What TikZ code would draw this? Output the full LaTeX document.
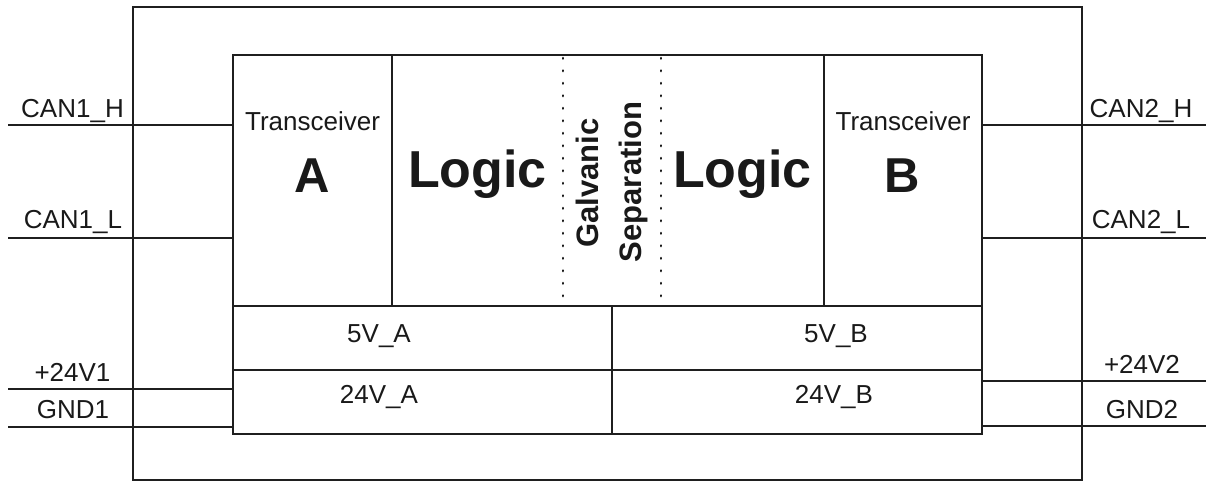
\documentclass[tikz,border=0pt]{standalone}
\usepackage{fontspec}
\setmainfont{Liberation Sans}
\begin{document}
\begin{tikzpicture}[x=1pt,y=-1pt,
  line width=2pt,
  ink/.style={draw=black!88},
  box/.style={ink, inner sep=0pt, outer sep=0pt, anchor=north west},
  sep/.style={draw=black!90, line width=2.6pt, dash pattern=on 0.6pt off 11.9pt, line cap=round},
  lbl/.style={anchor=base, inner sep=0pt, text=black!90, font=\fontsize{26}{30}\selectfont},
  big/.style={anchor=base, inner sep=0pt, text=black!90, font=\fontsize{49}{55}\bfseries\selectfont},
  logic/.style={anchor=base, inner sep=0pt, text=black!90, font=\fontsize{52}{58}\bfseries\selectfont},
  gal/.style={anchor=base, inner sep=0pt, rotate=90, text=black!90, font=\fontsize{31}{36}\bfseries\selectfont},
  wire/.style={ink}]
\useasboundingbox (0,0) rectangle (1208,482);
% housing and module outline
\node[box, minimum width=949pt, minimum height=473pt] (housing) at (133,7) {};
\node[box, minimum width=749pt, minimum height=379pt] (core) at (233,55) {};
% internal dividers
\draw[ink] (392,55) -- (392,306);
\draw[ink] (824,55) -- (824,306);
\draw[ink] (233,306) -- (982,306);
\draw[ink] (233,370) -- (982,370);
\draw[ink] (612,306) -- (612,434);
\draw[sep] (563,58) -- (563,304);
\draw[sep] (661,58) -- (661,304);
% block texts
\node[lbl] (trA) at (312.5,130) {Transceiver};
\node[big] (letA) at (312,192) {A};
\node[logic] (logA) at (477.5,187) {Logic};
\node[gal] (galv) at (598,183) {Galvanic};
\node[gal] (sepr) at (641,182) {Separation};
\node[logic] (logB) at (742.5,187) {Logic};
\node[lbl] (trB) at (903,130) {Transceiver};
\node[big] (letB) at (902,192) {B};
\node[lbl] (v5A) at (379,342) {5V\_A};
\node[lbl] (v5B) at (836,342) {5V\_B};
\node[lbl] (v24A) at (379,403) {24V\_A};
\node[lbl] (v24B) at (834,403) {24V\_B};
% external pins, left
\coordinate (p1h) at (8,125);
\coordinate (p1l) at (8,238);
\coordinate (p1v) at (8,389);
\coordinate (p1g) at (8,427);
\draw[wire] (p1h) -- (p1h -| core.west);
\draw[wire] (p1l) -- (p1l -| core.west);
\draw[wire] (p1v) -- (p1v -| core.west);
\draw[wire] (p1g) -- (p1g -| core.west);
\node[lbl] (n1h) at (72.5,117) {CAN1\_H};
\node[lbl] (n1l) at (73,228) {CAN1\_L};
\node[lbl] (n1v) at (72.5,381) {+24V1};
\node[lbl] (n1g) at (73,418) {GND1};
% external pins, right
\coordinate (p2h) at (1206,125);
\coordinate (p2l) at (1206,238);
\coordinate (p2v) at (1206,381);
\coordinate (p2g) at (1206,426);
\draw[wire] (p2h -| core.east) -- (p2h);
\draw[wire] (p2l -| core.east) -- (p2l);
\draw[wire] (p2v -| core.east) -- (p2v);
\draw[wire] (p2g -| core.east) -- (p2g);
\node[lbl] (n2h) at (1141,117) {CAN2\_H};
\node[lbl] (n2l) at (1141,228) {CAN2\_L};
\node[lbl] (n2v) at (1142,373) {+24V2};
\node[lbl] (n2g) at (1142,418) {GND2};
\end{tikzpicture}
\end{document}
